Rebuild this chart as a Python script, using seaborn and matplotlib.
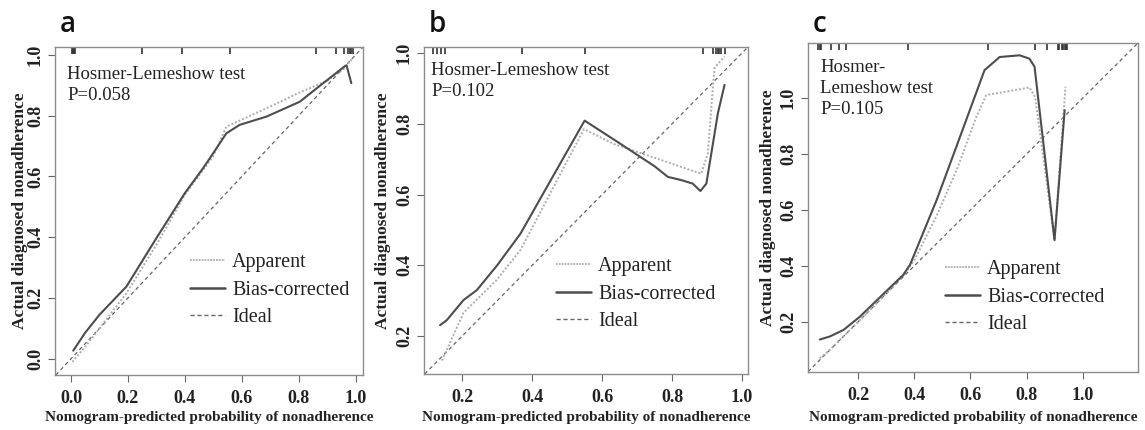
import matplotlib
matplotlib.use("Agg")
import matplotlib.pyplot as plt
from matplotlib.lines import Line2D
import seaborn as sns
import pandas as pd

# ---------------- data ----------------
a_bias_x = [0.008, 0.05, 0.10, 0.195, 0.30, 0.40, 0.464, 0.50, 0.546, 0.593, 0.687, 0.804, 0.874, 0.961, 0.968, 0.985]
a_bias_y = [0.027, 0.086, 0.145, 0.238, 0.397, 0.545, 0.627, 0.677, 0.742, 0.770, 0.797, 0.846, 0.898, 0.962, 0.966, 0.907]
a_app_x = [0.005, 0.05, 0.10, 0.195, 0.30, 0.40, 0.50, 0.546, 0.60, 0.70, 0.80, 0.90, 0.96, 0.99]
a_app_y = [-0.01, 0.04, 0.10, 0.216, 0.375, 0.54, 0.667, 0.764, 0.787, 0.830, 0.875, 0.915, 0.955, 0.99]
a_rug = [0.004, 0.007, 0.010, 0.013, 0.25, 0.39, 0.56, 0.86, 0.93, 0.96, 0.975, 0.98, 0.985, 0.99]

b_bias_x = [0.137, 0.156, 0.204, 0.242, 0.30, 0.367, 0.45, 0.55, 0.65, 0.75, 0.788, 0.826, 0.859, 0.881, 0.898, 0.931, 0.95]
b_bias_y = [0.231, 0.245, 0.302, 0.330, 0.400, 0.490, 0.635, 0.809, 0.745, 0.680, 0.650, 0.641, 0.631, 0.610, 0.631, 0.830, 0.910]
b_app_x = [0.142, 0.204, 0.30, 0.367, 0.45, 0.548, 0.634, 0.75, 0.883, 0.902, 0.921, 0.95]
b_app_y = [0.131, 0.266, 0.360, 0.444, 0.600, 0.785, 0.743, 0.704, 0.659, 0.715, 0.958, 0.99]
b_rug = [0.117, 0.129, 0.14, 0.151, 0.37, 0.55, 0.887, 0.917, 0.925, 0.93, 0.935, 0.94, 0.95]

c_bias_x = [0.064, 0.10, 0.148, 0.206, 0.28, 0.361, 0.385, 0.48, 0.55, 0.65, 0.704, 0.775, 0.81, 0.828, 0.899, 0.935]
c_bias_y = [0.137, 0.148, 0.171, 0.218, 0.290, 0.368, 0.404, 0.636, 0.826, 1.099, 1.146, 1.152, 1.140, 1.111, 0.492, 0.956]
c_app_x = [0.064, 0.10, 0.148, 0.206, 0.28, 0.361, 0.40, 0.48, 0.55, 0.62, 0.656, 0.81, 0.83, 0.899, 0.938]
c_app_y = [0.070, 0.100, 0.148, 0.205, 0.280, 0.365, 0.420, 0.580, 0.740, 0.930, 1.010, 1.037, 1.003, 0.492, 1.040]
c_rug = [0.058, 0.063, 0.068, 0.103, 0.132, 0.157, 0.377, 0.663, 0.83, 0.872, 0.91, 0.915, 0.925, 0.93, 0.935, 0.94, 0.945]

panel_letters = ["a", "b", "c"]
hl_texts = ["Hosmer-Lemeshow test\nP=0.058", "Hosmer-Lemeshow test\nP=0.102", "Hosmer-\nLemeshow test\nP=0.105"]
a_ticks = [0.0, 0.2, 0.4, 0.6, 0.8, 1.0]
b_ticks = [0.2, 0.4, 0.6, 0.8, 1.0]
c_ticks = [0.2, 0.4, 0.6, 0.8, 1.0]
legend_labels = ["Apparent", "Bias-corrected", "Ideal"]
xlabel = "Nomogram-predicted probability of nonadherence"
ylabel = "Actual diagnosed nonadherence"

# ---------------- style ----------------
sns.set_theme(style="white")
plt.rcParams["font.family"] = ["Liberation Serif", "DejaVu Serif"]

W, H = 1145, 430
fig = plt.figure(figsize=(W / 100, H / 100), dpi=100)

panels = [
    dict(box=(55, 47, 363, 375), lim=(-0.056, 1.026), ylim=(-0.053, 1.026), ticks=a_ticks,
         bx=a_bias_x, by=a_bias_y, ax_=a_app_x, ay=a_app_y, rug=a_rug,
         letter_x=68, ylab_x=20, txt_x=67, txt_top=66, leg_x=190, leg_y=290),
    dict(box=(424, 47, 748, 374), lim=(0.091, 1.017), ylim=(0.093, 1.017), ticks=b_ticks,
         bx=b_bias_x, by=b_bias_y, ax_=b_app_x, ay=b_app_y, rug=b_rug,
         letter_x=437, ylab_x=383, txt_x=431, txt_top=62, leg_x=556, leg_y=294),
    dict(box=(808, 43, 1138, 372), lim=(0.022, 1.196), ylim=(0.021, 1.196), ticks=c_ticks,
         bx=c_bias_x, by=c_bias_y, ax_=c_app_x, ay=c_app_y, rug=c_rug,
         letter_x=819, ylab_x=768, txt_x=820, txt_top=59, leg_x=945, leg_y=297),
]

bias_color = "#4d4d4d"
app_color = "#adadad"
ideal_color = "#666666"
spine_color = "#8c8c8c"

for i, p in enumerate(panels):
    l, t, r, b = p["box"]
    ax = fig.add_axes([l / W, 1 - b / H, (r - l) / W, (b - t) / H])
    ax.set_xlim(*p["lim"])
    ax.set_ylim(*p["ylim"])

    ax.axline((0, 0), slope=1, color=ideal_color, lw=0.9, ls=(0, (3, 2.5)), zorder=1)
    sns.lineplot(x=p["ax_"], y=p["ay"], ax=ax, sort=False, estimator=None,
                 color=app_color, lw=1.4, linestyle=(0, (1, 1)), zorder=2)
    sns.lineplot(x=p["bx"], y=p["by"], ax=ax, sort=False, estimator=None,
                 color=bias_color, lw=1.5, zorder=3)
    ax.vlines(p["rug"], 1 - 0.02, 1, transform=ax.get_xaxis_transform(),
              color="#333333", lw=1.2)

    ax.set_xticks(p["ticks"])
    ax.set_yticks(p["ticks"])
    ax.set_xticklabels([f"{v:.1f}" for v in p["ticks"]])
    ax.set_yticklabels([f"{v:.1f}" for v in p["ticks"]])
    ax.tick_params(axis="both", direction="out", length=5, width=0.8, color="#666666",
                   labelcolor="#222222", labelsize=13, pad=3, bottom=True, left=True)
    ax.tick_params(axis="x", pad=6)
    ax.tick_params(axis="y", labelrotation=90)
    for lab in ax.get_xticklabels() + ax.get_yticklabels():
        lab.set_fontweight("bold")
    for lab in ax.get_yticklabels():
        lab.set_va("center")
    for s in ax.spines.values():
        s.set_color(spine_color)
        s.set_linewidth(1.0)

    ax.set_xlabel(xlabel, fontsize=11, fontweight="bold", color="#222222")
    ax.set_ylabel(ylabel, fontsize=12.5, fontweight="bold", color="#222222")
    ax.xaxis.label.set_va("center")
    ax.yaxis.label.set_va("center")
    ax.xaxis.set_label_coords(0.5, (b - 418) / (b - t))
    ax.yaxis.set_label_coords((p["ylab_x"] - l) / (r - l), 0.5)

    ax.text((p["txt_x"] - l) / (r - l), (b - p["txt_top"]) / (b - t), hl_texts[i],
            transform=ax.transAxes, ha="left", va="top", fontsize=13.5,
            color="#222222", linespacing=1.3)

    handles = [Line2D([], [], color=app_color, lw=1.3, ls=(0, (1, 0.6))),
               Line2D([], [], color=bias_color, lw=1.8),
               Line2D([], [], color=ideal_color, lw=1.0, ls=(0, (3, 2)))]
    ax.legend(handles, legend_labels, loc="center left",
              bbox_to_anchor=((p["leg_x"] - l) / (r - l), (b - p["leg_y"]) / (b - t)),
              frameon=False, fontsize=14.5, handlelength=1.75, handletextpad=0.35,
              labelspacing=0.42, borderpad=0, borderaxespad=0, labelcolor="#222222")

    fig.text(p["letter_x"] / W, 1 - 32 / H, panel_letters[i], fontsize=20,
             family=["Open Sans", "DejaVu Sans"], fontweight="semibold",
             ha="center", va="baseline", color="#111111")

fig.savefig("out.png", dpi=100)
